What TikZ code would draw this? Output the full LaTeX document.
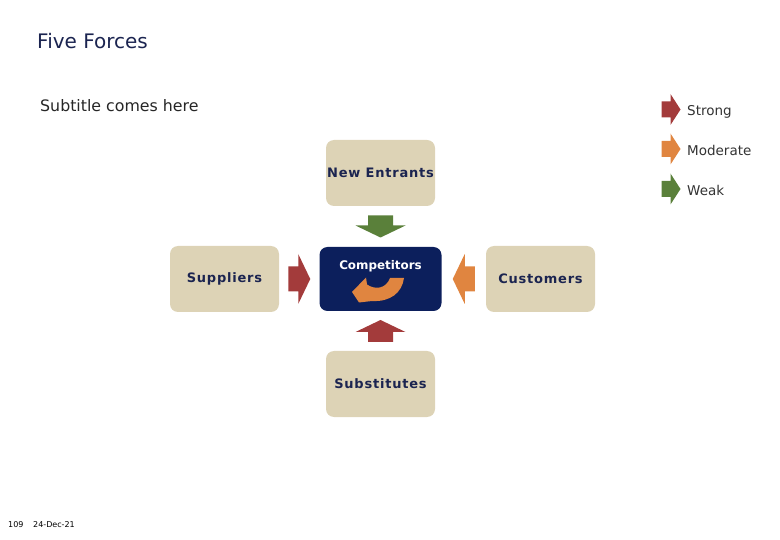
\documentclass[tikz,border=0pt]{standalone}
\usepackage{fontspec}
\setmainfont{DejaVu Sans}
\newfontfamily\boxfont[LetterSpace=6]{DejaVu Sans}
\usepackage{xcolor}
\usepackage{tikz}
\usetikzlibrary{calc}

\definecolor{boxbeige}{HTML}{DDD3B6}
\definecolor{compnavy}{HTML}{0C1F5C}
\definecolor{textnavy}{HTML}{1B2450}
\definecolor{strongred}{HTML}{A33B3B}
\definecolor{modorange}{HTML}{E08540}
\definecolor{weakgreen}{HTML}{5A803A}

\tikzset{
  forcebox/.style={fill=boxbeige,rounded corners=8pt,minimum width=109pt,minimum height=66pt,
    text=textnavy,font=\boxfont\bfseries\fontsize{13}{15}\selectfont,inner sep=0pt},
  keytext/.style={anchor=base west,inner sep=0pt,text=black!80,font=\fontsize{13.5}{15}\selectfont},
  pics/forcearrow/.style={code={
    \fill[#1](-11,-12.5)--(-1,-12.5)--(-1,-25)--(11,0)--(-1,25)--(-1,12.5)--(-11,12.5)--cycle;}},
  pics/keyarrow/.style={code={
    \fill[#1](-9.5,-8)--(-0.5,-8)--(-0.5,-15.5)--(9.5,0)--(-0.5,15.5)--(-0.5,8)--(-9.5,8)--cycle;}}
}

\begin{document}
\begin{tikzpicture}[x=1pt,y=-1pt]
\useasboundingbox(0,0)rectangle(780,540);
% titles
\node[anchor=base west,inner sep=0pt,text=textnavy,font=\fontsize{20}{23}\selectfont](title)at(37,48.3){Five Forces};
\node[anchor=base west,inner sep=0pt,text=black!85,font=\fontsize{15.8}{18}\selectfont](subtitle)at(40,111.5){Subtitle comes here};
% legend
\pic at(671,109.5){keyarrow=strongred};
\pic at(671,149){keyarrow=modorange};
\pic at(671,189){keyarrow=weakgreen};
\node[keytext](strong)at(687,116){Strong};
\node[keytext](moderate)at(687,155.5){Moderate};
\node[keytext](weak)at(687,195.5){Weak};
% the five forces
\node[forcebox](entrants)at(380.5,173){New Entrants};
\node[forcebox](suppliers)at(224.5,279){Suppliers};
\node[forcebox](customers)at(540.5,279){Customers};
\node[forcebox](substitutes)at(380.5,384){Substitutes};
\node[fill=compnavy,rounded corners=8pt,minimum width=122pt,minimum height=64pt,inner sep=0pt](comp)at(380.5,279){};
\node[anchor=base,inner sep=0pt,text=white,font=\bfseries\fontsize{11.9}{13}\selectfont](complbl)at($(comp.north)+(0,22.5)$){Competitors};
\fill[modorange](352,292)--(366,277.5)--(367,284.5)
  ..controls(375,290)and(386,289)..(390,278)--(404,278)
  ..controls(402,293)and(390,302)..(372,301)--(359,302.5)--cycle;
% arrows into the competitors
\pic[rotate=-90]at($(entrants.south)!0.5!(comp.north)$){forcearrow=weakgreen};
\pic at($(suppliers.east)!0.5!(comp.west)$){forcearrow=strongred};
\pic[rotate=180]at($(customers.west)!0.5!(comp.east)$){forcearrow=modorange};
\pic[rotate=90]at($(substitutes.north)!0.5!(comp.south)$){forcearrow=strongred};
% footer
\node[anchor=base west,inner sep=0pt,font=\fontsize{8}{9}\selectfont](page)at(8,527.5){109};
\node[anchor=base west,inner sep=0pt,font=\fontsize{8}{9}\selectfont](date)at(33,527.5){24-Dec-21};
\end{tikzpicture}
\end{document}
